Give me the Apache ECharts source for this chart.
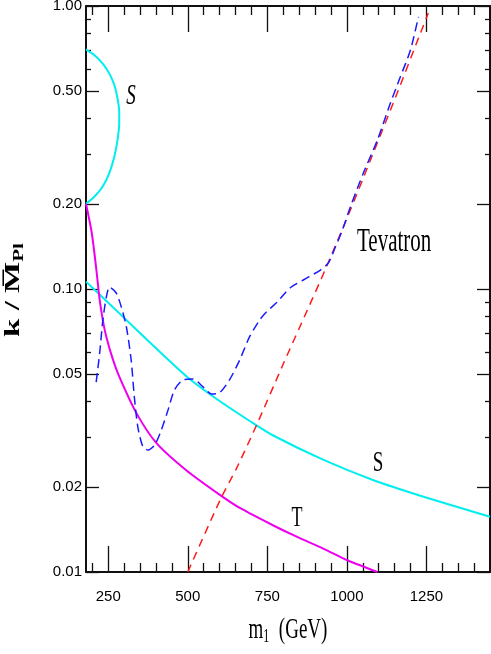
<!DOCTYPE html>
<html>
<head>
<meta charset="utf-8">
<script src="https://cdn.jsdelivr.net/npm/echarts@6.0.0/dist/echarts.min.js"></script>
<style>
  html, body { margin: 0; padding: 0; background: #fff; }
  #chart { width: 491px; height: 654px; }
</style>
</head>
<body>
<div id="chart"></div>
<script>
// axis ranges and ticks
const xMin = 180, xMax = 1450;
const xMajorTicks = [250, 500, 750, 1000, 1250];
const xMinorTicks = [200, 300, 350, 400, 450, 550, 600, 650, 700, 800, 850, 900, 950,
  1050, 1100, 1150, 1200, 1300, 1350, 1400];
const yMin = 0.01, yMax = 1.0;
const yMajorTicks = [0.01, 0.02, 0.05, 0.1, 0.2, 0.5, 1.0];
const yMinorTicks = [0.03, 0.04, 0.06, 0.07, 0.08, 0.09, 0.3, 0.4, 0.6, 0.7, 0.8, 0.9];

// curves: [m1 (GeV), k/MPl]
const sUpper = [[180, 0.703], [206, 0.671], [232, 0.627], [253, 0.578], [269, 0.526],
  [279, 0.472], [284.5, 0.423], [284.5, 0.385], [279, 0.336], [269, 0.2935],
  [253, 0.2564], [232, 0.2298], [206, 0.2118], [180, 0.200]];
const sLower = [[180, 0.1062], [285, 0.0820], [391, 0.0631], [497, 0.0490],
  [600, 0.0402], [696, 0.0341], [770, 0.0303], [927, 0.0249], [1084, 0.0211],
  [1241, 0.01845], [1450, 0.01567]];
const tCurve = [[180, 0.200], [198, 0.158], [212, 0.1186], [223, 0.0915], [234, 0.0764],
  [244, 0.0677], [263, 0.0571], [285, 0.0489], [338, 0.0365], [401, 0.0286],
  [495, 0.0229], [602, 0.0187], [665, 0.0168], [769, 0.0146], [844, 0.0133],
  [926, 0.0121], [1002, 0.0110], [1096, 0.0100]];
const tevatronBlue = [[212, 0.0469], [223, 0.0594], [233, 0.0777], [244, 0.0937],
  [254, 0.1016], [275, 0.0968], [291, 0.0864], [307, 0.0734], [322, 0.0561],
  [332, 0.0415], [343, 0.0325], [359, 0.0277], [375, 0.0270], [396, 0.0281],
  [417, 0.0318], [438, 0.0374], [458, 0.0440], [485, 0.0477], [516, 0.0481],
  [548, 0.0451], [574, 0.0426], [600, 0.0430], [631, 0.0477], [663, 0.0561],
  [694, 0.0677], [726, 0.0777], [747, 0.0829], [781, 0.0900], [822, 0.1010],
  [863, 0.1076], [917, 0.1167], [942, 0.1236], [964, 0.1407], [986, 0.1616],
  [1011, 0.195], [1052, 0.257], [1096, 0.336], [1137, 0.454], [1168, 0.561],
  [1200, 0.699], [1225, 0.915]];
const tevatronRed = [[500, 0.0100], [602, 0.0180], [652, 0.0231], [715, 0.0328],
  [800, 0.0543], [876, 0.0843], [932, 0.1170], [1005, 0.1830], [1074, 0.2850],
  [1159, 0.4950], [1231, 0.8000], [1256, 0.9440]];

const lg = v => Math.log10(v);
const toLog = arr => arr.map(p => [p[0], lg(p[1])]);

const tickFont = "'Liberation Sans', Arial, sans-serif";
const serif = "'Liberation Serif', 'DejaVu Serif', serif";

function xAxis(pos, ticks, len, withLine, withLabel) {
  return {
    type: 'value', position: pos, min: xMin, max: xMax,
    splitLine: { show: false },
    axisLine: { show: withLine, onZero: false, lineStyle: { color: '#111', width: 2 } },
    axisTick: { show: true, inside: true, length: len, customValues: ticks,
      lineStyle: { color: '#111', width: 1.3 } },
    axisLabel: { show: withLabel, customValues: ticks, margin: 17, color: '#000',
      fontFamily: tickFont, fontSize: 15, formatter: v => String(v) }
  };
}
function yAxis(pos, ticks, len, withLine, withLabel) {
  return {
    type: 'value', position: pos, min: lg(yMin), max: lg(yMax),
    splitLine: { show: false },
    axisLine: { show: withLine, onZero: false, lineStyle: { color: '#111', width: 2 } },
    axisTick: { show: true, inside: true, length: len, customValues: ticks.map(lg),
      lineStyle: { color: '#111', width: 1.3 } },
    axisLabel: { show: withLabel, customValues: ticks.map(lg), margin: 4, color: '#000',
      fontFamily: tickFont, fontSize: 15,
      formatter: v => Math.pow(10, v).toFixed(2) }
  };
}

function line(data, color, width, dash) {
  return {
    type: 'line', data: toLog(data), xAxisIndex: 0, yAxisIndex: 0,
    showSymbol: false, smooth: 0.25,
    animation: false, silent: true,
    lineStyle: { color: color, width: width, type: dash || 'solid' }
  };
}

const chart = echarts.init(document.getElementById('chart'), null, { renderer: 'canvas' });
chart.setOption({
  animation: false,
  backgroundColor: '#fff',
  grid: { left: 86, right: 1, top: 6, bottom: 82, containLabel: false, outerBoundsMode: 'none' },
  xAxis: [
    xAxis('bottom', xMajorTicks, 26, true, true),
    xAxis('bottom', xMinorTicks, 9, false, false),
    xAxis('top', xMajorTicks, 26, true, false),
    xAxis('top', xMinorTicks, 9, false, false)
  ],
  yAxis: [
    yAxis('left', yMajorTicks, 13, true, true),
    yAxis('left', yMinorTicks, 5, false, false),
    yAxis('right', yMajorTicks, 13, true, false),
    yAxis('right', yMinorTicks, 5, false, false)
  ],
  series: [
    line(sUpper, '#00eeee', 2),
    line(sLower, '#00eeee', 2),
    line(tCurve, '#ee00ee', 2),
    line(tevatronRed, '#ff1a1a', 1.5, [8, 6]),
    line(tevatronBlue, '#1a1aff', 1.5, [9, 5])
  ],
  graphic: [
    { type: 'text', x: 131, y: 96, scaleY: 1.5,
      style: { text: 'S', font: 'italic 19px ' + serif, fill: '#000', align: 'center', verticalAlign: 'middle' } },
    { type: 'text', x: 378, y: 464, scaleY: 1.5,
      style: { text: 'S', font: '19px ' + serif, fill: '#000', align: 'center', verticalAlign: 'middle' } },
    { type: 'text', x: 297, y: 518, scaleY: 1.6,
      style: { text: 'T', font: '18px ' + serif, fill: '#000', align: 'center', verticalAlign: 'middle' } },
    { type: 'text', x: 357, y: 242, scaleY: 1.6,
      style: { text: 'Tevatron', font: '21px ' + serif, fill: '#000', align: 'left', verticalAlign: 'middle' } },
    { type: 'text', x: 288, y: 630, scaleY: 1.55,
      style: { text: 'm{sub|1}  (GeV)', font: '19px ' + serif, fill: '#000',
        align: 'center', verticalAlign: 'middle',
        rich: { sub: { fontSize: 12, fontFamily: serif, padding: [9, 0, 0, 0] } } } },
    { type: 'text', x: 13, y: 290, rotation: Math.PI / 2, scaleX: 1.5,
      style: { text: 'k / M\u0305{sub|Pl}', font: 'bold 22px ' + serif, fill: '#000',
        align: 'center', verticalAlign: 'middle',
        rich: { sub: { fontSize: 14, fontWeight: 'bold', fontFamily: serif, padding: [12, 0, 0, 0] } } } }
  ]
});
</script>
</body>
</html>
